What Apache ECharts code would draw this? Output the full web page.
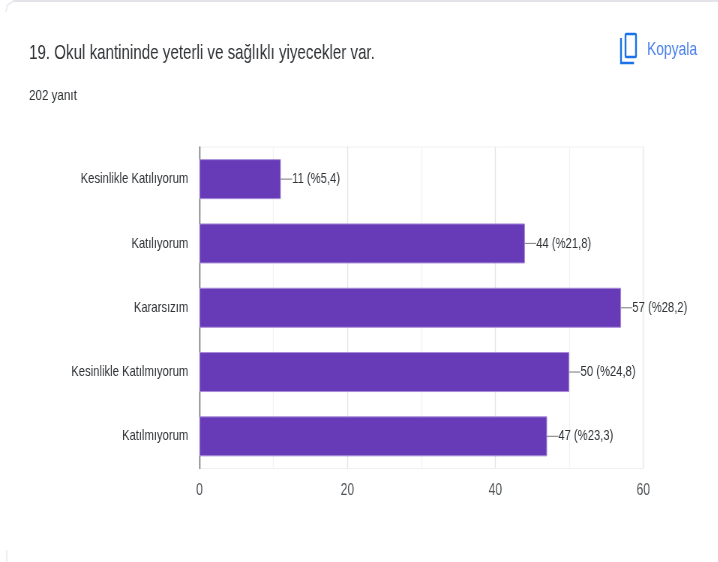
<!DOCTYPE html>
<html><head><meta charset="utf-8">
<style>html,body{margin:0;padding:0;background:#fff;overflow:hidden}
#c{width:957.33px;height:562px;transform:scaleX(0.75);transform-origin:0 0}</style>
<script src="https://cdn.jsdelivr.net/npm/echarts@6/dist/echarts.min.js"></script>
</head><body><div id="c"></div>
<script>
const categories = ['Kesinlikle Katılıyorum','Katılıyorum','Kararsızım','Kesinlikle Katılmıyorum','Katılmıyorum'];
const values = [11,44,57,50,47];
const percents = ['%5,4','%21,8','%28,2','%24,8','%23,3'];
const titleText = '19. Okul kantininde yeterli ve sağlıklı yiyecekler var.';
const subText = '202 yanıt';
const copyText = 'Kopyala';
const font = '"Liberation Sans",sans-serif';
const sx = 0.75; // the reference is horizontally squeezed
const X = v => v / sx;
const chart = echarts.init(document.getElementById('c'),null,{renderer:'canvas'});
chart.setOption({
  animation:false,
  backgroundColor:'#fff',
  graphic:[
    {type:'rect',z:0,shape:{x:X(13),y:0,width:X(705),height:2},style:{fill:'#e3e3ea'}},
    {type:'polyline',shape:{points:[[X(6),X(9)],[X(7),6],[X(9),4],[X(13),1.5]]},style:{stroke:'#e8e8ee',lineWidth:1.5,fill:'none'}},
    {type:'rect',shape:{x:X(6),y:550,width:X(1.5),height:12},style:{fill:'#eeeef3'}},
    {type:'text',x:X(29),y:43,style:{text:titleText,font:'20.2px '+font,fill:'#303336'}},
    {type:'text',x:X(29),y:88,style:{text:subText,font:'15.5px '+font,fill:'#303336'}},
    {type:'text',x:X(647),y:40,style:{text:copyText,font:'18.5px '+font,fill:'#4a80ec'}},
    {type:'polyline',shape:{points:[[X(621),38],[X(621),63],[X(634),63]]},style:{stroke:'#1a73e8',lineWidth:2.4,fill:'none'}},
    {type:'rect',shape:{x:X(625.5),y:34,width:X(10.5),height:23,r:1},style:{stroke:'#1a73e8',lineWidth:2.4,fill:'none'}}
  ],
  grid:{left:X(199.5),right:X(74.5),top:147,bottom:93.5,show:true,borderColor:'#f0f0f0',borderWidth:1},
  xAxis:{type:'value',min:0,max:60,interval:20,
    axisLine:{show:false},axisTick:{show:false},
    axisLabel:{color:'#4f5357',fontFamily:font,fontSize:16,margin:14},
    splitLine:{show:true,lineStyle:{color:'#e6e6e6',width:1.33}},
    minorTick:{show:false,splitNumber:2},
    minorSplitLine:{show:true,lineStyle:{color:'#f3f3f3',width:1.33}}},
  yAxis:{type:'category',inverse:true,data:categories,
    axisLine:{show:true,lineStyle:{color:'#5f6368',width:1.33}},axisTick:{show:false},
    axisLabel:{color:'#303336',fontFamily:font,fontSize:15,margin:15}},
  series:[{type:'bar',data:values,barWidth:40,
    itemStyle:{color:'#673ab7',borderColor:'#a68bd8',borderWidth:1},
    label:{show:true,position:'right',distance:0,color:'#303336',fontFamily:font,fontSize:15,
      formatter:p=>p.value+' ('+percents[p.dataIndex]+')'},
    labelLayout:{dx:15},
    labelLine:{show:true,lineStyle:{color:'#8e8e8e',width:1.2}}
  }]
});
</script></body></html>
